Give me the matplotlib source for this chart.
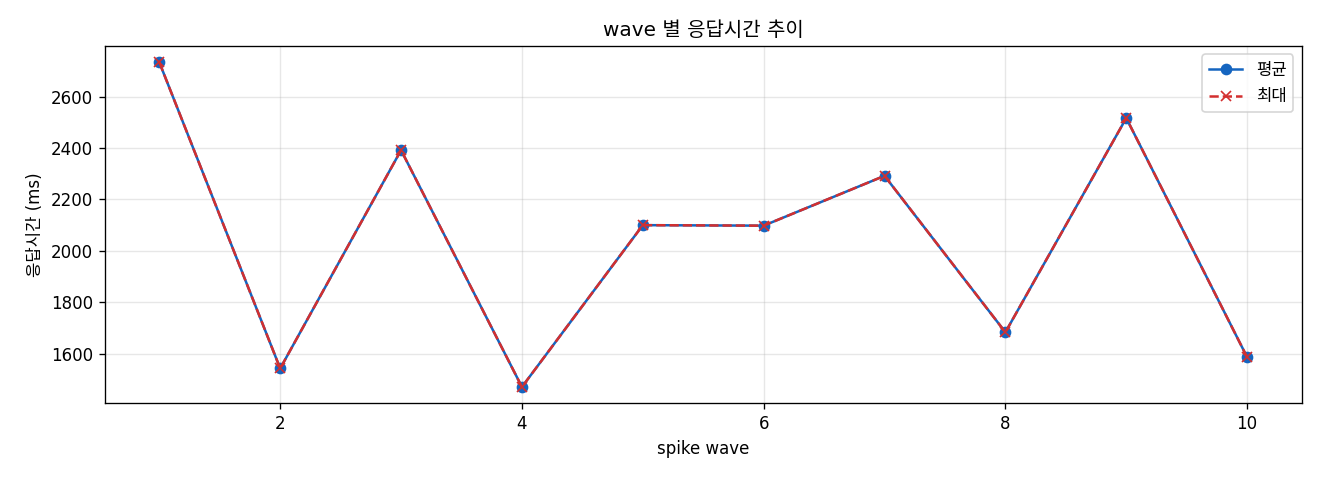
import matplotlib
matplotlib.use('Agg')
import matplotlib.pyplot as plt

plt.rcParams['font.family'] = ['DejaVu Sans', 'Noto Sans CJK KR']
plt.rcParams['axes.unicode_minus'] = False

waves = [1, 2, 3, 4, 5, 6, 7, 8, 9, 10]
avg_ms = [2734, 1542, 2392, 1470, 2100, 2098, 2292, 1683, 2517, 1586]
max_ms = [2734, 1542, 2392, 1470, 2100, 2098, 2292, 1683, 2517, 1586]


def main():
    fig, ax = plt.subplots(figsize=(11, 4), dpi=120)
    ax.plot(waves, avg_ms, marker='o', color='#1565c0', label='평균', markersize=6, linewidth=1.5)
    ax.plot(waves, max_ms, marker='x', linestyle='--', color='#d32f2f', label='최대', markersize=6, linewidth=1.5)
    ax.set_title('wave 별 응답시간 추이')
    ax.set_xlabel('spike wave')
    ax.set_ylabel('응답시간 (ms)')
    ax.grid(True, alpha=0.3)
    ax.legend(loc='upper right')
    fig.subplots_adjust(left=0.0795, right=0.986, top=0.904, bottom=0.16)
    plt.savefig('out.png')


if __name__ == '__main__':
    main()
